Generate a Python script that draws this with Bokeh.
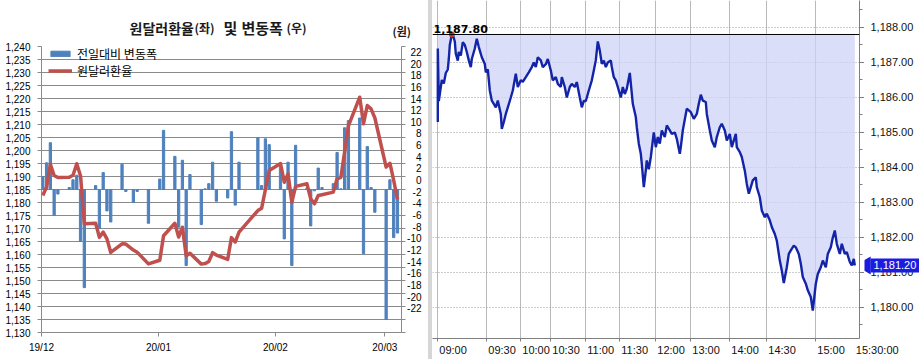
import math
import pandas as pd
from bokeh.plotting import figure
from bokeh.models import (Range1d, LinearAxis, FixedTicker, ColumnDataSource, Legend, LegendItem,
                          Label, LabelSet, Span, NumeralTickFormatter, Spacer)
from bokeh.layouts import row, column
from bokeh.core.properties import value
from bokeh.embed import file_html
from bokeh.resources import INLINE

# ---------------- data : left chart (daily) ----------------
trade_dates = [
    "2019-12-02", "2019-12-03", "2019-12-04", "2019-12-05", "2019-12-06",
    "2019-12-09", "2019-12-10", "2019-12-11", "2019-12-12", "2019-12-13",
    "2019-12-16", "2019-12-17", "2019-12-18", "2019-12-19", "2019-12-20",
    "2019-12-23", "2019-12-24", "2019-12-26", "2019-12-27", "2019-12-30",
    "2020-01-02", "2020-01-03", "2020-01-06", "2020-01-07", "2020-01-08",
    "2020-01-09", "2020-01-10", "2020-01-13", "2020-01-14", "2020-01-15",
    "2020-01-16", "2020-01-17", "2020-01-20", "2020-01-21", "2020-01-22",
    "2020-01-23", "2020-01-28", "2020-01-29", "2020-01-30", "2020-01-31",
    "2020-02-03", "2020-02-04", "2020-02-05", "2020-02-06", "2020-02-07",
    "2020-02-10", "2020-02-11", "2020-02-12", "2020-02-13", "2020-02-14",
    "2020-02-17", "2020-02-18", "2020-02-19", "2020-02-20", "2020-02-21",
    "2020-02-24", "2020-02-25", "2020-02-26", "2020-02-27", "2020-02-28",
    "2020-03-02", "2020-03-03", "2020-03-04", "2020-03-05"]

usdkrw = [
    1182.7, 1186.0, 1194.7, 1190.4, 1189.6,
    1189.7, 1190.5, 1194.9, 1190.2, 1171.8,
    1172.0, 1166.6, 1168.6, 1166.0, 1160.8,
    1164.1, 1164.0, 1161.7, 1160.9, 1156.4,
    1157.8, 1167.2, 1172.0, 1166.7, 1170.5,
    1159.5, 1160.5, 1156.3, 1156.5, 1157.3,
    1160.7, 1159.8, 1158.1, 1166.5, 1164.8,
    1168.6, 1176.9, 1177.8, 1185.0, 1192.3,
    1195.0, 1187.8, 1191.0, 1180.1, 1186.2,
    1187.2, 1181.4, 1179.5, 1182.7, 1183.0,
    1184.0, 1189.1, 1189.7, 1199.5, 1209.5,
    1220.5, 1210.3, 1217.3, 1216.0, 1212.6,
    1193.6, 1195.1, 1188.5, 1181.2]

daily_change = [
    2.0, 4.1, 7.2, -4.0, -0.7,
    0.3, 1.5, 2.2, -8.0, -15.1,
    0.6, -6.0, 2.6, -3.3, -5.0,
    3.9, -0.3, -2.0, -0.3, -5.2,
    1.6, 9.1, 5.1, -5.8, 4.5,
    -11.7, 2.3, -5.4, 0.1, 0.9,
    4.2, -1.8, -1.3, 8.9, -2.4,
    4.2, 8.0, 0.6, 7.8, 6.9,
    3.5, -7.6, 4.2, -11.7, 6.8,
    0.2, -5.6, -0.2, 3.3, 0.3,
    0.9, 5.7, 0.1, 9.5, 10.6,
    11.0, -9.9, 6.6, 0.3, -3.5,
    -20.0, 1.5, -7.4, -6.7]

month_ticks = ["2019-12-01", "2020-01-01", "2020-02-01", "2020-03-01"]
month_labels = ["19/12", "20/01", "20/02", "20/03"]
rate_ticks = list(range(1130, 1241, 5))
change_ticks = list(range(22, -23, -2))

# ---------------- data : right chart (intraday) ----------------
seq = [
    0, 0, 1, 3, 4, 6, 8, 10, 11, 12,
    14, 15, 17, 18, 20, 21, 23, 25, 27, 29,
    31, 33, 34, 37, 39, 41, 44, 47, 48, 50,
    52, 54, 56, 58, 60, 63, 64, 66, 68, 70,
    73, 75, 78, 80, 83, 85, 88, 91, 94, 96,
    98, 100, 103, 105, 108, 110, 113, 115, 118, 120,
    123, 124, 127, 129, 132, 134, 137, 139, 142, 144,
    146, 148, 151, 154, 156, 158, 160, 162, 164, 166,
    168, 170, 173, 174, 176, 178, 180, 183, 185, 187,
    189, 192, 195, 198, 199, 201, 203, 204, 206, 208,
    209, 211, 213, 216, 218, 220, 222, 224, 227, 229,
    232, 234, 237, 239, 242, 243, 245, 248, 249, 253,
    256, 259, 261, 263, 265, 268, 269, 272, 274, 277,
    279, 282, 284, 287, 289, 292, 294, 298, 299, 302,
    304, 307, 309, 311, 313, 315, 318, 319, 322, 324,
    327, 329, 332, 334, 337, 339, 340, 342, 344, 346,
    349, 351, 353, 356, 358, 361, 363, 365, 368, 370,
    373, 375, 378, 380, 383, 385, 388, 390, 393, 395,
    397, 399, 402, 404, 407, 409, 412, 414, 416, 417]

price = [
    1185.3, 1187.4, 1185.9, 1186.3, 1186.5, 1186.4, 1186.7, 1186.8, 1187.1, 1187.5,
    1187.8, 1187.8, 1187.6, 1187.25, 1187.05, 1187.3, 1187.2, 1187.58, 1187.5, 1187.3,
    1187.06, 1186.87, 1187.1, 1187.4, 1187.68, 1187.44, 1187.15, 1186.96, 1186.72, 1186.8,
    1186.2, 1185.91, 1185.82, 1185.72, 1185.91, 1185.53, 1185.1, 1185.3, 1185.53, 1185.72,
    1186.0, 1186.2, 1186.68, 1186.3, 1186.49, 1186.45, 1186.58, 1186.72, 1186.87, 1187.0,
    1186.87, 1187.15, 1187.06, 1186.87, 1186.95, 1187.1, 1186.77, 1186.49, 1186.58, 1186.39,
    1186.3, 1186.58, 1186.3, 1186.0, 1186.3, 1186.39, 1186.3, 1186.44, 1186.0, 1185.72,
    1185.9, 1185.9, 1186.2, 1186.49, 1186.77, 1187.06, 1187.6, 1187.34, 1186.96, 1187.05,
    1186.87, 1187.0, 1187.06, 1186.87, 1186.58, 1186.49, 1186.3, 1186.0, 1186.3, 1186.1,
    1186.25, 1186.7, 1185.82, 1185.44, 1185.15, 1184.68, 1184.39, 1184.1, 1183.44, 1183.91,
    1184.2, 1183.95, 1184.3, 1185.0, 1184.58, 1184.87, 1184.68, 1185.06, 1184.87, 1185.2,
    1185.06, 1184.96, 1185.0, 1184.82, 1184.39, 1184.58, 1185.06, 1185.53, 1185.68, 1185.58,
    1185.39, 1185.53, 1185.82, 1186.08, 1185.91, 1185.87, 1185.53, 1185.06, 1184.77, 1184.58,
    1184.87, 1185.15, 1185.25, 1185.06, 1184.77, 1184.96, 1184.58, 1184.96, 1184.58, 1184.44,
    1184.3, 1183.91, 1183.53, 1183.25, 1183.44, 1183.63, 1183.72, 1183.44, 1183.15, 1182.77,
    1182.58, 1182.68, 1182.49, 1182.3, 1182.1, 1181.91, 1181.72, 1181.34, 1181.06, 1180.7,
    1181.15, 1181.53, 1181.63, 1181.77, 1181.72, 1181.53, 1181.25, 1180.87, 1180.68, 1180.49,
    1180.3, 1179.91, 1180.68, 1180.96, 1181.15, 1181.34, 1181.15, 1181.53, 1181.72, 1182.0,
    1182.2, 1181.82, 1181.53, 1181.82, 1181.53, 1181.58, 1181.3, 1181.2, 1181.39, 1181.2]

time_tick_seq = [0, 49, 83, 113, 148, 182, 218, 253, 292, 329, 378, 422]
time_tick_labels = ["09:00", "09:30", "10:00", "10:30", "11:00", "11:30",
                    "12:00", "13:00", "14:00", "14:30", "15:00", "15:30:00"]
price_ticks = list(range(1180, 1189))

# ---------------- styling constants ----------------
GRID = "#8a8a8a"
AXC = "#7f7f7f"
AX_FONT = "Liberation Sans"
KR_FONT = "Noto Sans CJK KR"
BLUE = "#1c1ce0"


def bare(fig):
    fig.outline_line_color = None
    for g in fig.xgrid + fig.ygrid:
        g.visible = False
    return fig


def ticks_only(ax):
    ax.major_label_text_color = None
    ax.major_label_text_font_size = "1px"
    ax.major_label_standoff = 0
    ax.major_tick_in = 0
    ax.minor_tick_in = 0


# ================= left block =================
BASE = pd.Timestamp("2019-12-01")
BAR_SHIFT = 0.65  # bars sit a little before the month tick (Excel date axis)


def daynum(d):
    return (pd.Timestamp(d) - BASE).days


x_days = [daynum(d) - BAR_SHIFT for d in trade_dates]
tick_days = [daynum(d) for d in month_ticks]

XL0, XL1 = 0.0, 95.42
HEAD_H = 40
P1_TOP = 6          # px of p1 above its plotting frame
P1_BOTTOM = 27      # px of p1 below its plotting frame
FRAME_H = 286
P1_H = P1_TOP + FRAME_H + P1_BOTTOM

# header with the title
header = bare(figure(width=428, height=HEAD_H, output_backend="svg", toolbar_location=None,
                     x_range=Range1d(0, 428), y_range=Range1d(0, HEAD_H),
                     x_axis_location=None, y_axis_location=None, min_border=0))
for txt, px, size, py in [("원달러환율", 129, "14px", 27), ("(좌)", 194, "12px", 27),
                          ("및", 223, "15px", 27), ("변동폭", 241, "15px", 27),
                          ("(우)", 286, "12px", 27), ("(원)", 392, "11px", 30)]:
    header.add_layout(Label(x=px, y=HEAD_H - py, text=txt, text_font=KR_FONT,
                            text_font_size=size, text_font_style="bold",
                            text_color="#1a1a1a", text_baseline="alphabetic",
                            text_align="left"))

p1 = figure(width=406, height=P1_H, output_backend="svg", toolbar_location=None,
            x_range=Range1d(XL0, XL1), y_range=Range1d(1130, 1240),
            min_border_left=41, min_border_right=5, min_border_top=P1_TOP,
            min_border_bottom=P1_BOTTOM)
p1.outline_line_color = None
p1.extra_y_ranges = {"chg": Range1d(-22, 22)}

lax = p1.yaxis[0]
lax.ticker = FixedTicker(ticks=rate_ticks)
lax.formatter = NumeralTickFormatter(format="0,0")
lax.major_label_text_font = AX_FONT
lax.major_label_text_font_size = "10px"
lax.major_label_text_color = "#000000"
lax.major_label_standoff = 7
lax.major_tick_out = 4
lax.major_tick_in = 0
lax.minor_tick_out = 0
lax.minor_tick_in = 0
lax.axis_line_color = GRID
lax.major_tick_line_color = GRID

bax = p1.xaxis[0]
bax.ticker = FixedTicker(ticks=tick_days)
bax.major_label_overrides = {t: l for t, l in zip(tick_days, month_labels)}
bax.major_label_text_font = AX_FONT
bax.major_label_text_font_size = "10px"
bax.major_label_text_color = "#000000"
bax.major_label_standoff = 5
bax.major_tick_out = 4
bax.major_tick_in = 0
bax.minor_tick_out = 0
bax.minor_tick_in = 0
bax.axis_line_color = GRID
bax.major_tick_line_color = GRID

rax = LinearAxis(y_range_name="chg", ticker=FixedTicker(ticks=change_ticks),
                 major_tick_out=4, minor_tick_out=0,
                 axis_line_color=GRID, major_tick_line_color=GRID)
ticks_only(rax)
p1.add_layout(rax, "right")

p1.xgrid.visible = False
p1.ygrid.ticker = FixedTicker(ticks=rate_ticks)
p1.ygrid.grid_line_color = GRID

src = ColumnDataSource(dict(x=x_days, rate=usdkrw, chg=daily_change))
bars = p1.vbar(x="x", top="chg", bottom=0, width=0.6, y_range_name="chg",
               color="#4F81BD", source=src)
rate_line = p1.line(x="x", y="rate", line_width=3.5, color="#C0504D", source=src,
                    line_join="round")

legend = Legend(items=[LegendItem(label="전일대비 변동폭", renderers=[bars]),
                       LegendItem(label="원달러환율", renderers=[rate_line])],
                location=(6, 252), padding=1, spacing=-4, margin=0,
                glyph_width=24, glyph_height=7, label_standoff=5,
                label_text_font=KR_FONT, label_text_font_size="12px",
                label_text_color="#000000", label_height=13,
                background_fill_alpha=0, border_line_alpha=0)
p1.add_layout(legend)

# narrow strip holding the right-aligned secondary-axis labels (same vertical scale as p1)
PX_PER_CHG = FRAME_H / 44.0
p1b = bare(figure(width=22, height=P1_H, output_backend="svg", toolbar_location=None,
                  x_range=Range1d(0, 22),
                  y_range=Range1d(-22 - P1_BOTTOM / PX_PER_CHG, 22 + P1_TOP / PX_PER_CHG),
                  x_axis_location=None, y_axis_location=None, min_border=0))
rsrc = ColumnDataSource(dict(x=[15] * len(change_ticks), y=change_ticks,
                             t=[str(v) for v in change_ticks]))
p1b.add_layout(LabelSet(x="x", y="y", text="t", source=rsrc,
                        text_align="right", text_baseline="middle",
                        text_font=value(AX_FONT), text_font_size=value("10px"),
                        text_color="#000000"))

left_block = column(header, row(p1, p1b))

# ================= right block =================
XR0, XR1 = -5.3, 421.7
YR0, YR1 = 1179.114, 1188.771

p2 = figure(width=432, height=343, output_backend="svg", toolbar_location=None,
            x_range=Range1d(XR0, XR1), y_range=Range1d(YR0, YR1),
            y_axis_location="right",
            min_border_left=0, min_border_right=5, min_border_top=0, min_border_bottom=5)
p2.outline_line_color = None

yax = p2.yaxis[0]
yax.ticker = FixedTicker(ticks=price_ticks, minor_ticks=[1179.5 + 0.5 * i for i in range(19)])
yax.major_tick_out = 5
yax.minor_tick_out = 3
ticks_only(yax)
yax.axis_line_color = AXC
yax.major_tick_line_color = AXC
yax.minor_tick_line_color = AXC

xax = p2.xaxis[0]
xax.ticker = FixedTicker(ticks=time_tick_seq)
xax.major_tick_out = 3
xax.minor_tick_out = 0
ticks_only(xax)
xax.axis_line_color = AXC
xax.major_tick_line_color = AXC

p2.xgrid.ticker = FixedTicker(ticks=time_tick_seq)
p2.xgrid.grid_line_color = "#b9b9b9"
p2.ygrid.ticker = FixedTicker(ticks=price_ticks)
p2.ygrid.grid_line_color = "#9a9a9a"
p2.ygrid.grid_line_dash = "1 2"

max_price = max(price)
max_i = price.index(max_price)
last_price = price[-1]

p2.varea(x=seq, y1=price, y2=max_price, fill_color="#ced3f6", fill_alpha=0.75)
p2.line(x=seq, y=price, line_color="#1424a8", line_width=2.4)
p2.add_layout(Span(location=max_price, dimension="width", line_color="#000000", line_width=1))
p2.scatter(x=[seq[max_i]], y=[max_price], size=5, color="#c0392b")
p2.add_layout(Label(x=XR0 + 1, y=max_price, y_offset=1, text=f"{max_price:,.2f}",
                    text_font="DejaVu Sans", text_font_size="11px", text_font_style="bold",
                    text_color="#000000", text_baseline="bottom", text_align="left"))

# strip to the right of the intraday chart: price labels and the last price tag
p3 = bare(figure(width=55, height=343, output_backend="svg", toolbar_location=None,
                 x_range=Range1d(0, 55), y_range=p2.y_range,
                 x_axis_location=None, y_axis_location=None,
                 min_border_left=0, min_border_right=0, min_border_top=0, min_border_bottom=5))
psrc = ColumnDataSource(dict(x=[6] * len(price_ticks), y=price_ticks,
                             t=[f"{v:,.2f}" for v in price_ticks]))
p3.add_layout(LabelSet(x="x", y="y", text="t", source=psrc, text_align="left",
                       text_baseline="middle", text_font=value(AX_FONT),
                       text_font_size=value("11px"), text_color="#111111"))
p3.scatter(x=[1], y=[last_price], marker="triangle", angle=math.pi / 2, size=18,
           fill_color=BLUE, line_color=None)
p3.add_layout(Label(x=6, y=last_price, text=f"{last_price:,.2f}", text_font=AX_FONT,
                    text_font_size="11px", text_color="#ffffff", text_baseline="middle",
                    text_align="left", background_fill_color=BLUE, padding=3))

# footer with the time labels (left-aligned at their grid lines)
label_shift = [1.5] * (len(time_tick_seq) - 1) + [-4]
footer = bare(figure(width=487, height=16, output_backend="svg", toolbar_location=None,
                     x_range=Range1d(XR0, XR0 + 487), y_range=Range1d(0, 16),
                     x_axis_location=None, y_axis_location=None, min_border=0))
tsrc = ColumnDataSource(dict(x=[s + d for s, d in zip(time_tick_seq, label_shift)],
                             y=[10] * len(time_tick_seq), t=time_tick_labels))
footer.add_layout(LabelSet(x="x", y="y", text="t", source=tsrc, text_align="left",
                           text_baseline="middle", text_font=value(AX_FONT),
                           text_font_size=value("11px"), text_color="#111111"))

right_block = column(row(p2, p3), footer)

sep = Spacer(width=4, height=359, styles={"background-color": "#d6d6d6"})
layout = row(left_block, sep, right_block)

open("out.html", "w").write(file_html(layout, INLINE))
